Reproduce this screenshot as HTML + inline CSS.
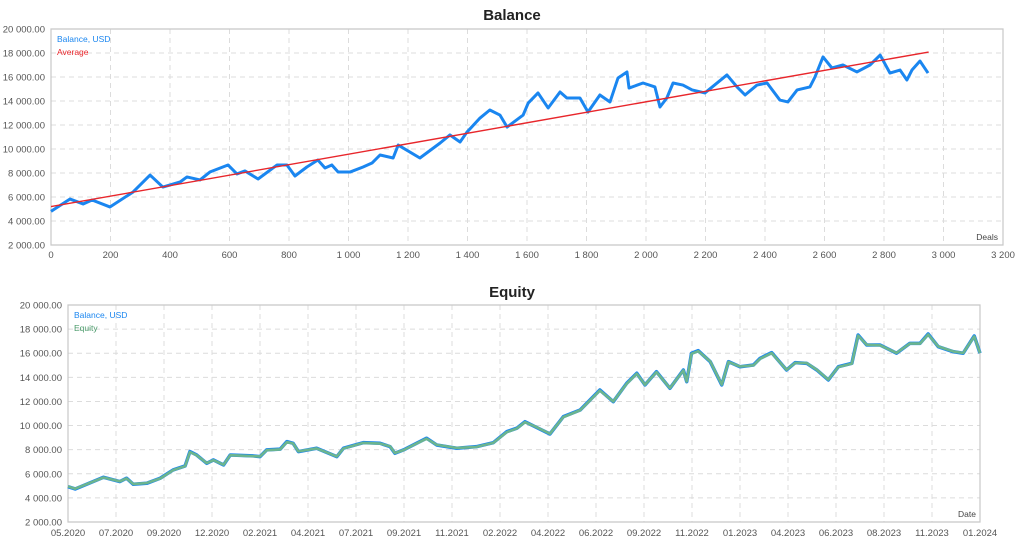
<!DOCTYPE html>
<html><head><meta charset="utf-8"><style>
html,body{margin:0;padding:0;background:#fff;width:1024px;height:546px;overflow:hidden}
svg{display:block;font-family:"Liberation Sans","DejaVu Sans",sans-serif}
</style></head><body>
<svg id="root" width="1024" height="546">
<g id="top"></g>
<g id="bot"></g>
</svg>
<script>
// ---- Balance chart data (deals -> balance USD)
const balDeals=[0,7,64,108,138,198,276,333,376,434,457,501,534,595,625,652,696,760,793,820,860,897,921,944,965,1005,1049,1079,1106,1150,1167,1240,1308,1341,1375,1398,1442,1475,1509,1533,1587,1604,1637,1671,1711,1734,1778,1805,1845,1879,1906,1936,1943,1990,2030,2047,2070,2091,2124,2155,2198,2272,2306,2333,2373,2407,2450,2477,2508,2551,2568,2595,2625,2662,2709,2753,2787,2820,2854,2877,2894,2921,2948];
const balValues=[4800,4920,5830,5420,5750,5170,6420,7830,6830,7250,7670,7420,8080,8670,7920,8170,7500,8670,8670,7750,8500,9080,8420,8670,8080,8080,8500,8830,9500,9250,10330,9250,10500,11170,10580,11400,12580,13250,12830,11830,12830,13830,14670,13420,14750,14250,14250,13080,14500,13920,15920,16420,15080,15500,15170,13500,14250,15500,15330,14920,14670,16170,15170,14500,15330,15500,14080,13920,14920,15170,16000,17670,16750,17000,16420,17000,17830,16330,16580,15750,16580,17330,16330];
const avgDeals=[0,2950];
const avgValues=[5200,18080];
const topXTicks=[0,200,400,600,800,1000,1200,1400,1600,1800,2000,2200,2400,2600,2800,3000,3200];
const yTicks=[2000,4000,6000,8000,10000,12000,14000,16000,18000,20000];
// ---- Equity chart data (time index over date labels -> USD)
const dateLabels=["05.2020","07.2020","09.2020","12.2020","02.2021","04.2021","07.2021","09.2021","11.2021","02.2022","04.2022","06.2022","09.2022","11.2022","01.2023","04.2023","06.2023","08.2023","11.2023","01.2024"];
const eqTime=[0,0.15,0.74,1.08,1.22,1.36,1.64,1.92,2.19,2.44,2.54,2.68,2.89,3.03,3.24,3.38,3.86,4.0,4.14,4.42,4.56,4.69,4.8,5.18,5.6,5.74,6.15,6.5,6.71,6.81,6.99,7.26,7.47,7.68,8.1,8.51,8.86,9.14,9.35,9.52,9.73,10.04,10.32,10.67,11.08,11.36,11.64,11.85,12.02,12.26,12.54,12.82,12.89,12.99,13.13,13.38,13.62,13.76,14.0,14.28,14.42,14.66,14.97,15.15,15.39,15.6,15.84,16.05,16.33,16.46,16.64,16.92,17.26,17.54,17.75,17.92,18.13,18.44,18.65,18.88,19];
const eqBalance=[4930,4740,5710,5350,5630,5130,5210,5630,6320,6650,7840,7560,6870,7150,6730,7560,7480,7420,7980,8040,8670,8530,7840,8120,7420,8120,8580,8530,8250,7700,7980,8530,8950,8390,8120,8250,8580,9490,9780,10320,9910,9300,10740,11290,12950,11980,13510,14340,13370,14470,13090,14610,13640,16000,16210,15300,13370,15300,14880,15020,15580,16050,14610,15220,15160,14610,13780,14880,15160,17510,16680,16680,16000,16820,16820,17600,16540,16130,16000,17430,16000];
const eqEquity=[4950,4760,5690,5370,5610,5150,5230,5610,6300,6630,7800,7540,6890,7130,6750,7540,7460,7440,7960,8020,8630,8510,7860,8100,7440,8100,8560,8510,8270,7720,7960,8510,8910,8410,8140,8230,8560,9450,9760,10280,9930,9320,10700,11270,12900,12000,13470,14300,13390,14430,13110,14570,13660,15950,16170,15320,13400,15280,14900,15000,15540,16010,14630,15200,15180,14630,13810,14860,15140,17460,16700,16660,16020,16800,16800,17550,16560,16150,16020,17390,16020];

const NS="http://www.w3.org/2000/svg";
function mk(parent,tag,attrs,text){const e=document.createElementNS(NS,tag);for(const k in attrs)e.setAttribute(k,attrs[k]);if(text!==undefined)e.textContent=text;parent.appendChild(e);return e;}
function fmt(v){const s=String(v);return (s.length>3? s.slice(0,s.length-3)+" "+s.slice(-3):s);}
function fmtY(v){return fmt(v)+".00";}

function frame(g,L,T,R,B,title,ty,yfn,labelX){
  const t=mk(g,"text",{x:512,y:ty,"text-anchor":"middle","font-size":"15","font-weight":"bold",fill:"#222"},title);
  
  
  yTicks.forEach(v=>{
    const y=yfn(v);
    if(v>2000&&v<20000){const l=mk(g,"line",{x1:L,x2:R,y1:y,y2:y,stroke:"#dcdcdc","stroke-dasharray":"5,4","stroke-width":1});
      
      }
    const tx=mk(g,"text",{x:labelX,y:y+3.5,"text-anchor":"end","font-size":"9.5",fill:"#555"},fmtY(v));
    
    
  });
}

// ---- TOP
(function(){
  const g=document.getElementById("top");
  const L=51,T=29,R=1003,B=245;
  const xs=d=>L+d*(R-L)/3200;
  const ys=v=>B-(v-2000)*(B-T)/18000;
  frame(g,L,T,R,B,"Balance",20,ys,45);
  topXTicks.forEach(d=>{
    const x=xs(d);
    if(d>0&&d<3200){const l=mk(g,"line",{x1:x,x2:x,y1:T,y2:B,stroke:"#dcdcdc","stroke-dasharray":"5,4"});
      
      }
    const tx=mk(g,"text",{x:x,y:258,"text-anchor":"middle","font-size":"9.5",fill:"#555"},fmt(d));
    
    
  });
  const ax=mk(g,"path",{d:`M${L} ${T}V${B}H${R}V${T}Z`,fill:"none",stroke:"#c8c8c8","stroke-width":1.2});
  
  
  const bl=mk(g,"polyline",{points:balDeals.map((d,i)=>xs(d)+","+ys(balValues[i])).join(" "),fill:"none",stroke:"#1a86f0","stroke-width":3,"stroke-linejoin":"round"});
  
  
  const av=mk(g,"polyline",{points:avgDeals.map((d,i)=>xs(d)+","+ys(avgValues[i])).join(" "),fill:"none",stroke:"#e8262b","stroke-width":1.4});
  
  
  const l1=mk(g,"text",{x:57,y:42,"font-size":"8.5",fill:"#1a86f0"},"Balance, USD");
  
  
  const l2=mk(g,"text",{x:57,y:55,"font-size":"8.5",fill:"#e8262b"},"Average");
  
  
  const xt=mk(g,"text",{x:998,y:240,"text-anchor":"end","font-size":"8.5",fill:"#444"},"Deals");
  
  
})();

// ---- BOTTOM
(function(){
  const g=document.getElementById("bot");
  const L=68,T=305,R=980,B=522;
  const xs=t=>L+t*(R-L)/(dateLabels.length-1);
  const ys=v=>B-(v-2000)*(B-T)/18000;
  frame(g,L,T,R,B,"Equity",297,ys,62);
  dateLabels.forEach((lab,i)=>{
    const x=xs(i);
    if(i>0&&i<dateLabels.length-1){const l=mk(g,"line",{x1:x,x2:x,y1:T,y2:B,stroke:"#dcdcdc","stroke-dasharray":"5,4"});
      
      }
    const tx=mk(g,"text",{x:x,y:536,"text-anchor":"middle","font-size":"9.5",fill:"#555"},lab);
    
    
  });
  const ax=mk(g,"path",{d:`M${L} ${T}V${B}H${R}V${T}Z`,fill:"none",stroke:"#c8c8c8","stroke-width":1.2});
  
  
  const bl=mk(g,"polyline",{points:eqTime.map((t,i)=>xs(t)+","+ys(eqBalance[i])).join(" "),fill:"none",stroke:"#1a86f0","stroke-width":3.5,"stroke-linejoin":"round"});
  
  
  const eq=mk(g,"polyline",{points:eqTime.map((t,i)=>xs(t)+","+ys(eqEquity[i])).join(" "),fill:"none",stroke:"#6cb58e","stroke-width":2.6,"stroke-linejoin":"round"});
  
  
  const l1=mk(g,"text",{x:74,y:318,"font-size":"8.5",fill:"#1a86f0"},"Balance, USD");
  
  
  const l2=mk(g,"text",{x:74,y:331,"font-size":"8.5",fill:"#4a9a6a"},"Equity");
  
  
  const xt=mk(g,"text",{x:976,y:517,"text-anchor":"end","font-size":"8.5",fill:"#444"},"Date");
  
  
})();
</script>
</body></html>
